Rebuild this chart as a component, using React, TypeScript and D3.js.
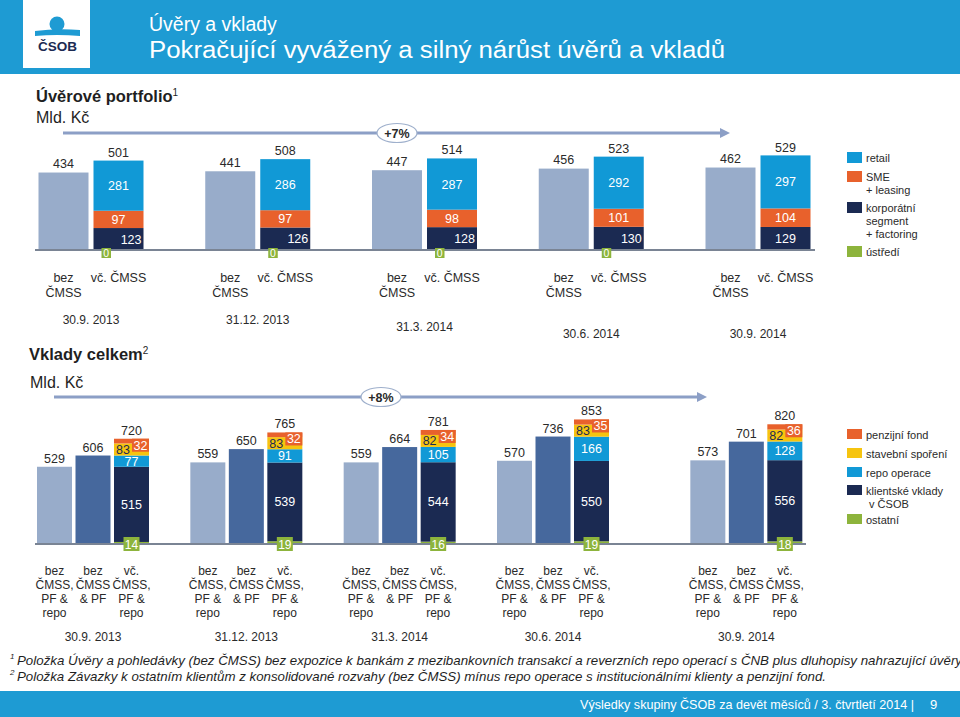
import React from "react";
import * as d3 from "d3";

// ---------- data ----------
const dates = ["30.9. 2013", "31.12. 2013", "31.3. 2014", "30.6. 2014", "30.9. 2014"];

// Úvěrové portfolio (Mld. Kč)
const loansExCmss = [434, 441, 447, 456, 462];
const loansTotal = [501, 508, 514, 523, 529];
const loansRetail = [281, 286, 287, 292, 297];
const loansSme = [97, 97, 98, 101, 104];
const loansCorporate = [123, 126, 128, 130, 129];
const loansHq: (number | null)[] = [0, 0, 0, 0, null];

// Vklady celkem (Mld. Kč)
const depExAll = [529, 559, 559, 570, 573];
const depExCmssPf = [606, 650, 664, 736, 701];
const depTotal = [720, 765, 781, 853, 820];
const depClient = [515, 539, 544, 550, 556];
const depRepo = [77, 91, 105, 166, 128];
const depBuilding = [83, 83, 82, 83, 82];
const depPension = [32, 32, 34, 35, 36];
const depOther = [14, 19, 16, 19, 18];

const loanLegend = [
  { key: "retail", lines: ["retail"] },
  { key: "sme", lines: ["SME", "+ leasing"] },
  { key: "corporate", lines: ["korporátní", "segment", "+ factoring"] },
  { key: "hq", lines: ["ústředí"] },
];
const depLegend = [
  { key: "pension", lines: ["penzijní fond"] },
  { key: "building", lines: ["stavební spoření"] },
  { key: "repo", lines: ["repo operace"] },
  { key: "client", lines: ["klientské vklady", " v ČSOB"] },
  { key: "other", lines: ["ostatní"] },
];
const loanCatLabels = [["bez", "ČMSS"], ["vč. ČMSS"]];
const depCatLabels = [["bez", "ČMSS,", "PF &", "repo"], ["bez", "ČMSS", "& PF"], ["vč.", "ČMSS,", "PF &", "repo"]];

// ---------- styles ----------
const FONT = "'Liberation Sans', Arial, sans-serif";
const NARROW = "'Liberation Sans Narrow', 'Arial Narrow', 'Liberation Sans', sans-serif";
const BAND = "#1e9bd3";
const C = {
  bez: "#98acca",
  mid: "#46689d",
  retail: "#1199d6",
  sme: "#e8612c",
  corporate: "#1b2a52",
  hq: "#8db43c",
  client: "#1b2a52",
  repo: "#1199d6",
  building: "#f6c40f",
  pension: "#e8612c",
  other: "#8db43c",
  text: "#2a2a2a",
  axis: "#7a8494",
  arrow: "#8c9fc6",
};

function Arrow({ x0, x1, y, cx, label }: { x0: number; x1: number; y: number; cx: number; label: string }) {
  return (
    <g>
      <line x1={x0} x2={x1 - 8} y1={y} y2={y} stroke={C.arrow} strokeWidth={3} />
      <polygon points={`${x1 - 10},${y - 5} ${x1},${y} ${x1 - 10},${y + 5}`} fill={C.arrow} />
      <ellipse cx={cx} cy={y} rx={20} ry={9.5} fill="#fff" stroke="#9fb0cc" strokeWidth={1.2} />
      <text x={cx} y={y + 4.5} textAnchor="middle" fontSize={12.5} fontWeight="bold" fill={C.text} fontFamily={FONT}>
        {label}
      </text>
    </g>
  );
}

export default function App() {
  // ----- top chart scales -----
  const xTop = d3.scalePoint<string>().domain(dates).range([91, 758]);
  const baseTop = 250;
  const yTop = d3.scaleLinear().domain([0, 600]).range([baseTop, baseTop - 107.1]);
  const bwTop = 50;

  const loanRows = dates.map((d, i) => ({
    date: d,
    hq: loansHq[i] ?? 0,
    corporate: loansCorporate[i],
    sme: loansSme[i],
    retail: loansRetail[i],
  }));
  const loanKeys = ["hq", "corporate", "sme", "retail"];
  const loanStack = d3.stack<any>().keys(loanKeys)(loanRows);

  // ----- bottom chart scales -----
  const xIdx = d3.scaleLinear().domain([0, 3]).range([93, 553]);
  const xDep = (i: number) => xIdx(i) + (i === dates.length - 1 ? 40 : 0);
  const baseDep = 544;
  const yDep = d3.scaleLinear().domain([0, 900]).range([baseDep, baseDep - 131.4]);
  const bwDep = 35;
  const offs = [-56, -17.5, 21];

  const depRows = dates.map((d, i) => ({
    date: d,
    other: depOther[i],
    client: depClient[i],
    repo: depRepo[i],
    building: depBuilding[i],
    pension: depPension[i],
  }));
  const depKeys = ["other", "client", "repo", "building", "pension"];
  const depStack = d3.stack<any>().keys(depKeys)(depRows);

  const dateDyTop = [0, 0, 7, 14, 14];

  return (
    <svg width={960} height={717} style={{ position: "absolute", left: 0, top: 0, background: "#fff" }} fontFamily={FONT}>
      {/* header */}
      <rect x={0} y={0} width={960} height={74} fill={BAND} />
      <rect x={23} y={0} width={67} height={68} fill="#fff" />
      <circle cx={57} cy={24} r={7.5} fill={BAND} />
      <path d="M35,31 Q57,28 80,30 L80,36 Q57,34 35,36 Z" fill={BAND} />
      <text x={57.5} y={51} textAnchor="middle" fontSize={13.5} fontWeight="bold" fill="#1b2a52">ČSOB</text>
      <text x={149} y={31} fontSize={19.5} fill="#fff">Úvěry a vklady</text>
      <text x={149} y={58} fontSize={23} fill="#fff" textLength={576} lengthAdjust="spacingAndGlyphs">
        Pokračující vyvážený a silný nárůst úvěrů a vkladů
      </text>

      {/* ===== top chart ===== */}
      <text x={36} y={102} fontSize={16.5} fontWeight="bold" fill="#1f1f1f">
        Úvěrové portfolio<tspan fontSize={10} fontWeight="normal" dy={-6}>1</tspan>
      </text>
      <text x={36} y={123} fontSize={16} fill="#1f1f1f">Mld. Kč</text>
      <Arrow x0={63} x1={730} y={133} cx={397} label="+7%" />

      {dates.map((d, i) => {
        const c = xTop(d)!;
        const xb = c - 52.5;
        const xv = c + 2.5;
        return (
          <g key={d}>
            <rect x={xb} y={yTop(loansExCmss[i])} width={bwTop} height={baseTop - yTop(loansExCmss[i])} fill={C.bez} />
            <text x={xb + bwTop / 2} y={yTop(loansExCmss[i]) - 4.5} textAnchor="middle" fontSize={12.5} fill={C.text}>
              {loansExCmss[i]}
            </text>
            {loanStack.map((s) => {
              const key = s.key as string;
              if (key === "hq") return null;
              const y0 = yTop(s[i][0]);
              const y1 = yTop(s[i][1]);
              const right = key === "corporate" && loansHq[i] !== null;
              return (
                <g key={key}>
                  <rect x={xv} y={y1} width={bwTop} height={y0 - y1} fill={(C as any)[key]} />
                  <text
                    x={right ? xv + bwTop - 2 : xv + bwTop / 2}
                    y={(y0 + y1) / 2 + 4.5}
                    textAnchor={right ? "end" : "middle"}
                    fontSize={12.5}
                    fill="#fff"
                  >
                    {(loanRows[i] as any)[key]}
                  </text>
                </g>
              );
            })}
            <text x={xv + bwTop / 2} y={yTop(loansTotal[i]) - 4} textAnchor="middle" fontSize={12.5} fill={C.text}>
              {loansTotal[i]}
            </text>
            {loanCatLabels[0].map((t, k) => (
              <text key={k} x={xb + bwTop / 2} y={282 + k * 14.5} textAnchor="middle" fontSize={12.5} fill={C.text}>{t}</text>
            ))}
            <text x={xv + bwTop / 2} y={282} textAnchor="middle" fontSize={12.5} fill={C.text}>{loanCatLabels[1][0]}</text>
            <text x={c} y={324 + dateDyTop[i]} textAnchor="middle" fontSize={12} fill={C.text}>{d}</text>
          </g>
        );
      })}
      <line x1={35} x2={815} y1={baseTop} y2={baseTop} stroke={C.axis} strokeWidth={2} />
      {dates.map((d, i) =>
        loansHq[i] === null ? null : (
          <g key={"hq" + d}>
            <rect x={xTop(d)! + 2.5 + 8} y={baseTop - 2} width={9.5} height={10} fill={C.hq} />
            <text x={xTop(d)! + 2.5 + 12.75} y={baseTop + 7} textAnchor="middle" fontSize={10.5} fill="#fff">
              {loansHq[i]}
            </text>
          </g>
        )
      )}

      {/* top legend */}
      {loanLegend.map((l, i) => {
        const ys = [152, 171, 202, 246][i];
        return (
          <g key={l.key}>
            <rect x={847} y={ys} width={15} height={11} fill={(C as any)[l.key]} />
            {l.lines.map((t, k) => (
              <text key={k} x={866} y={ys + 9.5 + k * 13} fontSize={11} fill={C.text}>{t}</text>
            ))}
          </g>
        );
      })}

      {/* ===== bottom chart ===== */}
      <text x={29} y={360} fontSize={16.5} fontWeight="bold" fill="#1f1f1f">
        Vklady celkem<tspan fontSize={10} fontWeight="normal" dy={-6}>2</tspan>
      </text>
      <text x={30} y={388} fontSize={16} fill="#1f1f1f">Mld. Kč</text>
      <Arrow x0={54} x1={707} y={397} cx={381} label="+8%" />

      {dates.map((d, i) => {
        const c = xDep(i);
        const xa = c + offs[0];
        const xbB = c + offs[1];
        const xc = c + offs[2];
        const topC = yDep(depTotal[i]);
        const stackTop = yDep(depStack[depStack.length - 1][i][1]);
        return (
          <g key={d}>
            <rect x={xa} y={yDep(depExAll[i])} width={bwDep} height={baseDep - yDep(depExAll[i])} fill={C.bez} />
            <text x={xa + bwDep / 2} y={yDep(depExAll[i]) - 4} textAnchor="middle" fontSize={12.5} fill={C.text}>{depExAll[i]}</text>
            <rect x={xbB} y={yDep(depExCmssPf[i])} width={bwDep} height={baseDep - yDep(depExCmssPf[i])} fill={C.mid} />
            <text x={xbB + bwDep / 2} y={yDep(depExCmssPf[i]) - 4} textAnchor="middle" fontSize={12.5} fill={C.text}>{depExCmssPf[i]}</text>
            {depStack.map((s) => {
              const key = s.key as string;
              const y0 = yDep(s[i][0]);
              const y1 = yDep(s[i][1]);
              const v = (depRows[i] as any)[key];
              let label: React.ReactNode = null;
              if (key === "client" || key === "repo") {
                label = (
                  <text x={xc + bwDep / 2} y={(y0 + y1) / 2 + 4.5} textAnchor="middle" fontSize={12.5} fill="#fff">{v}</text>
                );
              } else if (key === "building") {
                label = (
                  <text x={xc + 2} y={(y0 + y1) / 2 + 4.5} fontSize={12.5} fill="#1b2a52">{v}</text>
                );
              } else if (key === "pension") {
                label = (
                  <g>
                    <rect x={xc + bwDep - 17} y={y1} width={17} height={13} fill={C.pension} />
                    <text x={xc + bwDep - 8.5} y={y1 + 11} textAnchor="middle" fontSize={12.5} fill="#fff">{v}</text>
                  </g>
                );
              }
              return (
                <g key={key}>
                  <rect x={xc} y={y1} width={bwDep} height={Math.max(0, y0 - y1)} fill={(C as any)[key]} />
                  {label}
                </g>
              );
            })}
            <text x={xc + bwDep / 2} y={Math.min(topC, stackTop) - 4} textAnchor="middle" fontSize={12.5} fill={C.text}>{depTotal[i]}</text>
            {depCatLabels.map((lines, j) =>
              lines.map((t, k) => (
                <text key={j + "-" + k} x={c + offs[j] + bwDep / 2} y={575 + k * 14} textAnchor="middle" fontSize={12} fill={C.text}>{t}</text>
              ))
            )}
            <text x={c} y={641} textAnchor="middle" fontSize={12} fill={C.text}>{d}</text>
          </g>
        );
      })}
      <line x1={35} x2={806} y1={baseDep} y2={baseDep} stroke={C.axis} strokeWidth={2} />
      {dates.map((d, i) => {
        const xc = xDep(i) + offs[2];
        return (
          <g key={"oth" + d}>
            <rect x={xc + bwDep / 2 - 8} y={baseDep - 7} width={16} height={14} fill={C.other} />
            <text x={xc + bwDep / 2} y={baseDep + 4.5} textAnchor="middle" fontSize={12} fill="#fff">{depOther[i]}</text>
          </g>
        );
      })}

      {/* bottom legend */}
      {depLegend.map((l, i) => {
        const ys = [429, 448, 467, 485, 514][i];
        return (
          <g key={l.key}>
            <rect x={847} y={ys} width={15} height={10} fill={(C as any)[l.key]} />
            {l.lines.map((t, k) => (
              <text key={k} x={866} y={ys + 9.5 + k * 13} fontSize={11} fill={C.text} style={{ whiteSpace: "pre" }}>{t}</text>
            ))}
          </g>
        );
      })}

      {/* footnotes */}
      <text x={10} y={659} fontSize={8} fontStyle="italic" fill="#1f1f1f" fontFamily={NARROW}>1</text>
      <text x={17} y={665} fontSize={13} fontStyle="italic" fill="#1f1f1f" fontFamily={NARROW} textLength={945} lengthAdjust="spacingAndGlyphs">
        Položka Úvěry a pohledávky (bez ČMSS) bez expozice k bankám z mezibankovních transakcí a reverzních repo operací s ČNB plus dluhopisy nahrazující úvěry
      </text>
      <text x={10} y={675} fontSize={8} fontStyle="italic" fill="#1f1f1f" fontFamily={NARROW}>2</text>
      <text x={17} y={681} fontSize={13} fontStyle="italic" fill="#1f1f1f" fontFamily={NARROW} textLength={809} lengthAdjust="spacingAndGlyphs">
        Položka Závazky k ostatním klientům z konsolidované rozvahy (bez ČMSS) mínus repo operace s institucionálními klienty a penzijní fond.
      </text>

      {/* footer */}
      <rect x={0} y={691} width={960} height={26} fill={BAND} />
      <text x={580} y={709} fontSize={13} fill="#fff" fontFamily={NARROW} textLength={334} lengthAdjust="spacingAndGlyphs">
        Výsledky skupiny ČSOB za devět měsíců / 3. čtvrtletí 2014 |
      </text>
      <text x={930} y={709} fontSize={13} fill="#fff" fontFamily={NARROW}>9</text>
    </svg>
  );
}
